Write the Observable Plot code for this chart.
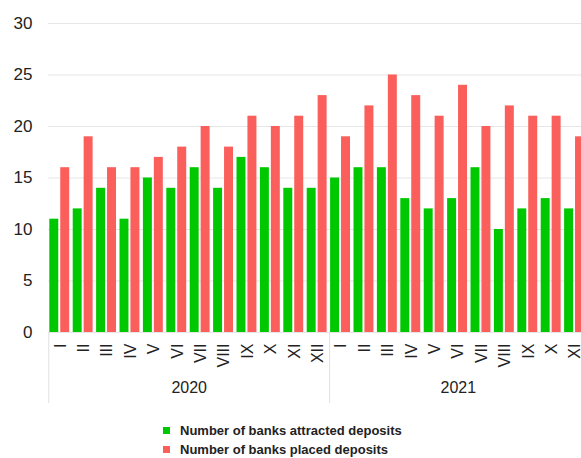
<!DOCTYPE html>
<html>
<head>
<meta charset="utf-8">
<script src="https://cdn.jsdelivr.net/npm/d3@7"></script>
<script src="https://cdn.jsdelivr.net/npm/@observablehq/plot@0.6"></script>
<style>
html, body { margin: 0; padding: 0; background: #fff; overflow: hidden; width: 581px; height: 458px; }
#chart { position: absolute; left: 0; top: 0; }
#legend { position: absolute; left: 163px; top: 421px; font: bold 13px "Liberation Sans", Arial, sans-serif; color: #222; }
.item { display: flex; align-items: center; height: 19px; white-space: nowrap; }
.sw { width: 7px; height: 7px; margin-right: 10px; flex: none; }
</style>
</head>
<body>
<div id="chart"></div>
<div id="legend"></div>
<script>
const years = ["2020", "2021"];
const months2020 = ["I", "II", "III", "IV", "V", "VI", "VII", "VIII", "IX", "X", "XI", "XII"];
const months2021 = ["I", "II", "III", "IV", "V", "VI", "VII", "VIII", "IX", "X", "XI"];
const attracted2020 = [11, 12, 14, 11, 15, 14, 16, 14, 17, 16, 14, 14];
const placed2020    = [16, 19, 16, 16, 17, 18, 20, 18, 21, 20, 21, 23];
const attracted2021 = [15, 16, 16, 13, 12, 13, 16, 10, 12, 13, 12];
const placed2021    = [19, 22, 25, 23, 21, 24, 20, 22, 21, 21, 19];
const seriesNames = ["Number of banks attracted deposits", "Number of banks placed deposits"];
const seriesColors = ["#00c800", "#fa5f5c"];
const yTicks = [0, 5, 10, 15, 20, 25, 30];

// build table
const slots = [];
const rows = [];
const groups = [[years[0], months2020, attracted2020, placed2020], [years[1], months2021, attracted2021, placed2021]];
let idx = 0;
const yearInfo = [];
const bounds = [0];
for (const [yr, ms, att, pla] of groups) {
  const start = idx;
  ms.forEach((m, k) => {
    slots.push({i: idx, month: m, year: yr});
    rows.push({i: idx, year: yr, month: m, series: 0, value: att[k]});
    rows.push({i: idx, year: yr, month: m, series: 1, value: pla[k]});
    idx++;
  });
  yearInfo.push({year: yr, x: (start + idx) / 2});
  bounds.push(idx);
}
const n = slots.length;
const step = 23.4;
const x0 = 48.3;

const green = rows.filter(d => d.series === 0);
const red = rows.filter(d => d.series === 1);

const chart = Plot.plot({
  width: 581,
  height: 412,
  marginLeft: 48,
  marginRight: 0,
  marginTop: 23,
  marginBottom: 80,
  style: {fontFamily: "'Liberation Sans', Arial, sans-serif", color: "#222", background: "#fff"},
  x: {domain: [0, n], range: [x0, x0 + n * step], axis: null},
  y: {domain: [0, 30], axis: null},
  marks: [
    Plot.gridY(yTicks, {stroke: "#e6e6e6", strokeOpacity: 1}),
    Plot.axisY(yTicks, {tickSize: 0, tickPadding: 16, fontSize: 17, label: null}),
    Plot.rectY(green, {x1: d => d.i + 0.043, x2: d => d.i + 0.426, y: "value", fill: seriesColors[0]}),
    Plot.rectY(red, {x1: d => d.i + 0.51, x2: d => d.i + 0.894, y: "value", fill: seriesColors[1]}),
    Plot.axisX(slots.map(s => s.i + 0.5), {
      tickFormat: v => slots[Math.floor(v)].month,
      tickRotate: -90, tickSize: 0, tickPadding: 11, fontSize: 16, label: null
    }),
    Plot.ruleX(bounds, {y1: 0, y2: 0, insetBottom: -71, stroke: "#e0e0e0"}),
    Plot.text(yearInfo, {x: "x", text: "year", frameAnchor: "bottom", dy: 60, fontSize: 16})
  ]
});
document.getElementById("chart").appendChild(chart);

const legend = document.getElementById("legend");
seriesNames.forEach((name, k) => {
  const item = document.createElement("div");
  item.className = "item";
  const sw = document.createElement("span");
  sw.className = "sw";
  sw.style.background = seriesColors[k];
  const tx = document.createElement("span");
  tx.textContent = name;
  item.appendChild(sw);
  item.appendChild(tx);
  legend.appendChild(item);
});
</script>
</body>
</html>
